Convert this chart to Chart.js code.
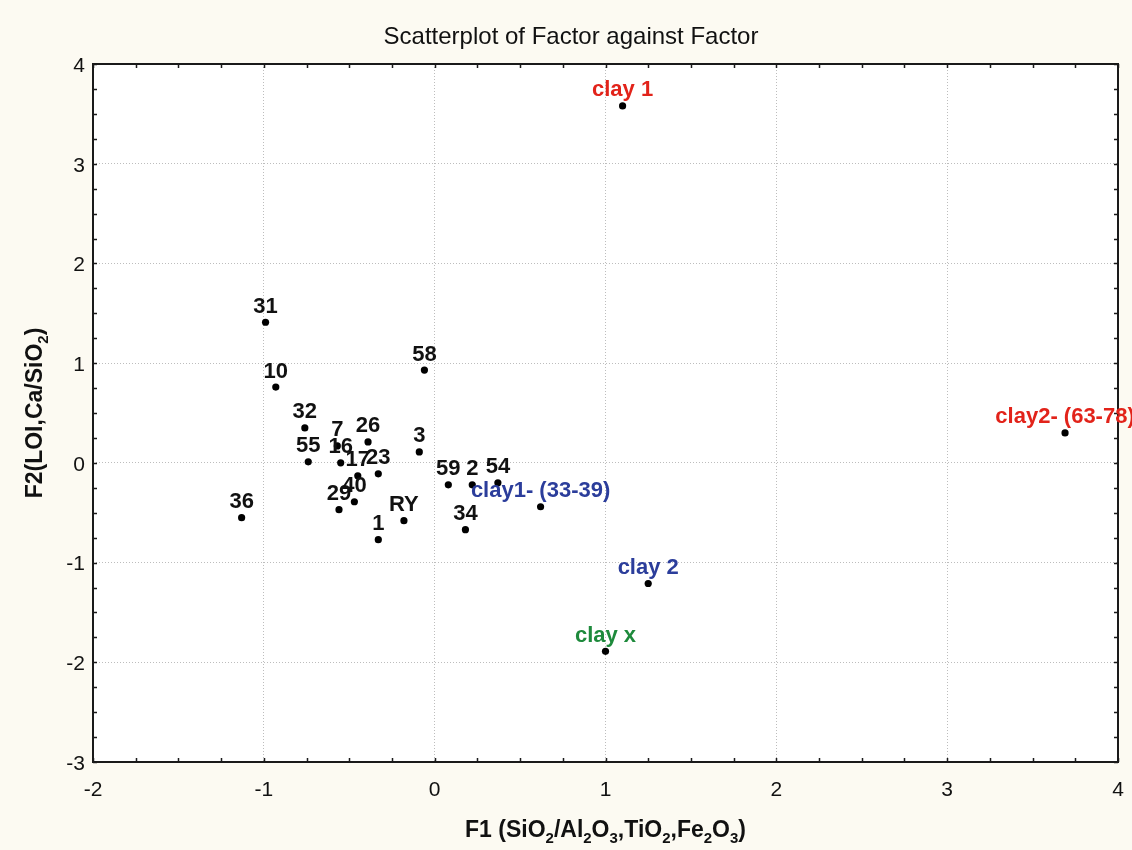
<!DOCTYPE html>
<html>
<head>
<meta charset="utf-8">
<script src="https://cdn.jsdelivr.net/npm/chart.js@4.4.1/dist/chart.umd.min.js"></script>
<style>
  html, body { margin: 0; padding: 0; background: #fcfaf2; }
  #wrap { width: 1132px; height: 850px; }
</style>
</head>
<body>
<div id="wrap"><canvas id="c" width="1132" height="850"></canvas></div>
<script>
// ---- data ----
const pointNames = ['31','10','58','32','26','3','55','7','16','17','23','40','29','36','RY','1','59','2','54','34','clay1- (33-39)','clay 1','clay 2','clay x','clay2- (63-78)'];
const f1Values = [-0.99,-0.93,-0.06,-0.76,-0.39,-0.09,-0.74,-0.57,-0.55,-0.45,-0.33,-0.47,-0.56,-1.13,-0.18,-0.33,0.08,0.22,0.37,0.18,0.62,1.10,1.25,1.00,3.69];
const f2Values = [1.41,0.76,0.93,0.35,0.21,0.11,0.01,0.17,0.00,-0.13,-0.11,-0.39,-0.47,-0.55,-0.58,-0.77,-0.22,-0.22,-0.20,-0.67,-0.44,3.58,-1.21,-1.89,0.30];
const pointGroups = ['s','s','s','s','s','s','s','s','s','s','s','s','s','s','s','s','s','s','s','s','clayB','clayA','clayB','clayC','clayA'];
const xTickValues = [-2,-1,0,1,2,3,4];
const yTickValues = [-3,-2,-1,0,1,2,3,4];
const chartTitle = 'Scatterplot of Factor against Factor';
const xTitleParts = [['F1 (SiO',0],['2',1],['/Al',0],['2',1],['O',0],['3',1],[',TiO',0],['2',1],[',Fe',0],['2',1],['O',0],['3',1],[')',0]];
const yTitleParts = [['F2(LOI,Ca/SiO',0],['2',1],[')',0]];

// ---- styles ----
const groupColors = { s: '#111111', clayA: '#e2231a', clayB: '#2b3d9b', clayC: '#1e8a3c' };
const FONT = '"Liberation Sans", Arial, sans-serif';

const pts = f1Values.map((x, i) => ({ x: x, y: f2Values[i] }));

function drawRich(ctx, parts, size, x0, baseline) {
  const subSize = Math.round(size * 0.66);
  ctx.textAlign = 'left';
  ctx.textBaseline = 'alphabetic';
  let total = 0;
  parts.forEach(([t, sub]) => {
    ctx.font = 'bold ' + (sub ? subSize : size) + 'px ' + FONT;
    total += ctx.measureText(t).width;
  });
  let x = x0 - total / 2;
  parts.forEach(([t, sub]) => {
    ctx.font = 'bold ' + (sub ? subSize : size) + 'px ' + FONT;
    ctx.fillText(t, x, baseline + (sub ? size * 0.28 : 0));
    x += ctx.measureText(t).width;
  });
}

const decor = {
  id: 'decor',
  beforeDraw(chart) {
    const { ctx, chartArea: a } = chart;
    ctx.save();
    ctx.fillStyle = '#fcfaf2';
    ctx.fillRect(0, 0, chart.width, chart.height);
    ctx.fillStyle = '#ffffff';
    ctx.fillRect(a.left, a.top, a.right - a.left, a.bottom - a.top);
    ctx.restore();
  },
  afterDatasetsDraw(chart) {
    const { ctx, chartArea: a } = chart;
    const xs = chart.scales.x, ys = chart.scales.y;
    ctx.save();
    // frame
    ctx.strokeStyle = '#1a1a1a';
    ctx.lineWidth = 2;
    ctx.strokeRect(a.left, a.top, a.right - a.left, a.bottom - a.top);
    // inward minor ticks
    ctx.lineWidth = 1.5;
    ctx.beginPath();
    for (let v = xs.min; v <= xs.max + 1e-9; v += 0.25) {
      const px = Math.round(xs.getPixelForValue(v)) + 0.5;
      ctx.moveTo(px, a.top); ctx.lineTo(px, a.top + 4);
      ctx.moveTo(px, a.bottom); ctx.lineTo(px, a.bottom - 4);
    }
    for (let v = ys.min; v <= ys.max + 1e-9; v += 0.25) {
      const py = Math.round(ys.getPixelForValue(v)) + 0.5;
      ctx.moveTo(a.left, py); ctx.lineTo(a.left + 4, py);
      ctx.moveTo(a.right, py); ctx.lineTo(a.right - 4, py);
    }
    ctx.stroke();
    // point labels
    const meta = chart.getDatasetMeta(0);
    ctx.font = 'bold 22px ' + FONT;
    ctx.textAlign = 'center';
    ctx.textBaseline = 'alphabetic';
    meta.data.forEach((el, i) => {
      ctx.fillStyle = groupColors[pointGroups[i]];
      ctx.fillText(pointNames[i], el.x, el.y - 9.5);
    });
    // title
    ctx.fillStyle = '#111';
    ctx.font = '24px ' + FONT;
    ctx.fillText(chartTitle, 571, 44);
    // axis titles
    drawRich(ctx, xTitleParts, 23, (a.left + a.right) / 2, 837);
    ctx.translate(42, (a.top + a.bottom) / 2);
    ctx.rotate(-Math.PI / 2);
    drawRich(ctx, yTitleParts, 23, 0, 0);
    ctx.restore();
  }
};

new Chart(document.getElementById('c'), {
  type: 'scatter',
  data: {
    datasets: [{
      data: pts,
      backgroundColor: '#000',
      borderColor: '#000',
      pointRadius: 3.6,
      pointHoverRadius: 3.6,
      borderWidth: 0
    }]
  },
  options: {
    responsive: false,
    animation: false,
    events: [],
    layout: { autoPadding: false, padding: { top: 64, right: 14, left: 0, bottom: 0 } },
    plugins: { legend: { display: false }, title: { display: false }, tooltip: { enabled: false } },
    scales: {
      x: {
        type: 'linear', min: -2, max: 4,
        afterBuildTicks: s => { s.ticks = xTickValues.map(v => ({ value: v })); },
        afterFit: s => { s.height = 88; s.paddingLeft = 0; s.paddingRight = 0; },
        grid: { color: '#bdbdbd', lineWidth: 1, drawTicks: false },
        border: { display: false, dash: [1, 2] },
        ticks: { color: '#111', font: { family: FONT, size: 21 }, padding: 16, maxRotation: 0 }
      },
      y: {
        type: 'linear', min: -3, max: 4,
        afterBuildTicks: s => { s.ticks = yTickValues.map(v => ({ value: v })); },
        afterFit: s => { s.width = 93; s.paddingTop = 0; s.paddingBottom = 0; },
        grid: { color: '#bdbdbd', lineWidth: 1, drawTicks: false },
        border: { display: false, dash: [1, 2] },
        ticks: { color: '#111', font: { family: FONT, size: 21 }, padding: 8, labelOffset: 2 }
      }
    }
  },
  plugins: [decor]
});
</script>
</body>
</html>
